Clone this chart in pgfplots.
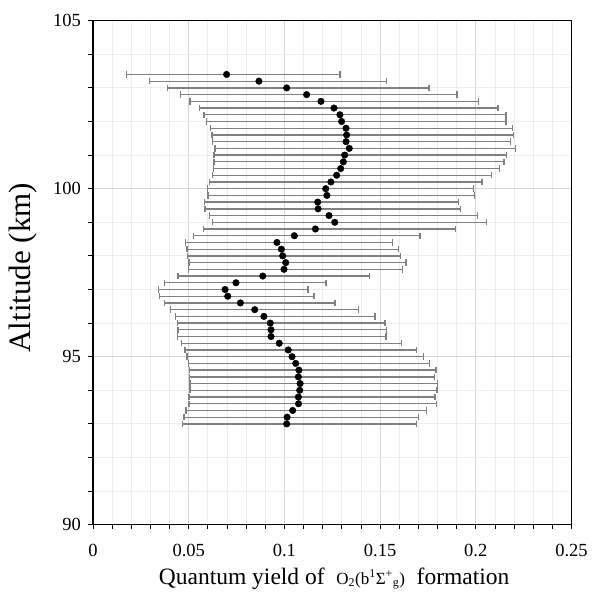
\documentclass[border=0pt]{standalone}
\usepackage{fontspec}
\setmainfont{Liberation Serif}
\usepackage{pgfplots}
\usepackage{pgfplotstable}
\pgfplotsset{compat=1.18}

% altitude (km), quantum yield, lower and upper end of the error bar
\pgfplotstableread{
y     x      lo     hi
103.4 0.0698 0.0176 0.1290
103.2 0.0867 0.0294 0.1534
103.0 0.1012 0.0388 0.1755
102.8 0.1116 0.0458 0.1902
102.6 0.1191 0.0507 0.2015
102.4 0.1259 0.0555 0.2116
102.2 0.1290 0.0580 0.2158
102.0 0.1299 0.0594 0.2158
101.8 0.1322 0.0615 0.2193
101.6 0.1325 0.0622 0.2196
101.4 0.1322 0.0625 0.2182
101.2 0.1339 0.0637 0.2208
101.0 0.1315 0.0632 0.2161
100.8 0.1308 0.0632 0.2147
100.6 0.1294 0.0629 0.2123
100.4 0.1273 0.0625 0.2083
100.2 0.1243 0.0608 0.2032
100.0 0.1216 0.0597 0.1987
99.8  0.1222 0.0601 0.1994
99.6  0.1174 0.0582 0.1911
99.4  0.1176 0.0585 0.1918
99.2  0.1233 0.0608 0.2008
99.0  0.1263 0.0623 0.2057
98.8  0.1162 0.0578 0.1895
98.6  0.1052 0.0524 0.1708
98.4  0.0961 0.0482 0.1566
98.2  0.0984 0.0491 0.1597
98.0  0.0991 0.0495 0.1608
97.8  0.1007 0.0502 0.1635
97.6  0.0998 0.0500 0.1618
97.4  0.0887 0.0444 0.1444
97.2  0.0747 0.0375 0.1217
97.0  0.0690 0.0341 0.1123
96.8  0.0704 0.0346 0.1155
96.6  0.0770 0.0375 0.1264
96.4  0.0845 0.0406 0.1386
96.2  0.0893 0.0432 0.1473
96.0  0.0926 0.0440 0.1526
95.8  0.0930 0.0444 0.1534
95.6  0.0930 0.0442 0.1531
95.4  0.0973 0.0463 0.1613
95.2  0.1020 0.0481 0.1691
95.0  0.1040 0.0491 0.1726
94.8  0.1059 0.0498 0.1759
94.6  0.1076 0.0505 0.1792
94.4  0.1073 0.0503 0.1783
94.2  0.1082 0.0507 0.1801
94.0  0.1080 0.0507 0.1797
93.8  0.1073 0.0502 0.1787
93.6  0.1074 0.0502 0.1796
93.4  0.1043 0.0486 0.1742
93.2  0.1014 0.0475 0.1700
93.0  0.1012 0.0469 0.1691
}\yielddata

\begin{document}
\begin{tikzpicture}
\begin{axis}[
    scale only axis,
    width=478.5pt, height=504pt,
    xmin=0, xmax=0.25, ymin=90, ymax=105,
    xtick={0,0.05,0.1,0.15,0.2,0.25},
    xticklabels={0,0.05,0.1,0.15,0.2,0.25},
    ytick={90,95,100,105},
    yticklabels={90,95,100,105},
    minor x tick num=4, minor y tick num=4,
    tick pos=left, tick align=outside,
    major tick length=4.5pt, minor tick length=4.5pt,
    every tick/.style={black, line width=0.8pt},
    axis line style={black, line width=1.2pt},
    grid=both,
    major grid style={color=black!16, line width=0.8pt},
    minor grid style={color=black!7, line width=0.8pt},
    ticklabel style={font=\fontsize{18.5}{22}\selectfont},
    xticklabel style={yshift=-11pt},
    yticklabel style={xshift=-4pt},
    /pgf/number format/assume math mode=true,
    xlabel={Quantum yield of\ \ {\fontsize{17}{20}\selectfont O\textsubscript{2}(b\textsuperscript{1}Σ\textsuperscript{+}\textsubscript{g})}\ \ formation},
    ylabel={Altitude (km)},
    xlabel style={font=\fontsize{23.5}{28}\selectfont, at={(axis description cs:0.504,0)}, anchor=base, yshift=-59.3pt},
    ylabel style={font=\fontsize{31}{36}\selectfont, at={(axis description cs:-0.146,0.51)}, anchor=center, rotate=0},
]
\addplot[only marks, mark=*, mark size=3.3pt, black,
    error bars/.cd, x dir=both, x explicit,
    error bar style={color=black!50, line width=1.3pt},
    error mark options={color=black!50, line width=1.2pt, mark size=3.2pt, rotate=90}]
    table[x=x, y=y,
          x error plus expr=\thisrow{hi}-\thisrow{x},
          x error minus expr=\thisrow{x}-\thisrow{lo}] {\yielddata};
\end{axis}
\path[use as bounding box] (-93pt,-68.3pt) rectangle (495pt,524.7pt);
\end{tikzpicture}
\end{document}
